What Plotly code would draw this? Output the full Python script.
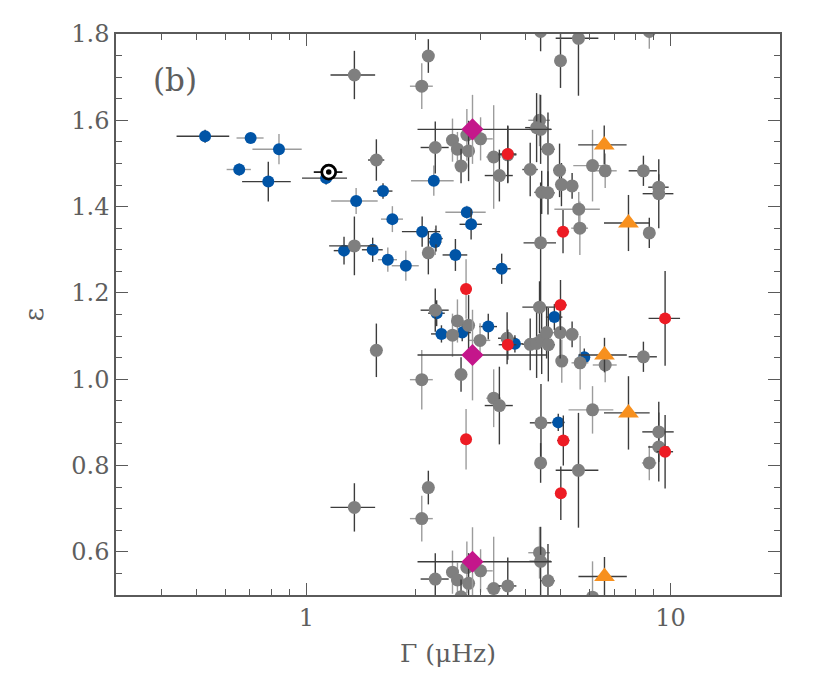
import plotly.graph_objects as go

# ---------------- data ----------------
# gray sample: Gamma (muHz), epsilon, x-error, y-error, error-bar shade (d=dark, l=light)
gray_x = [1.355, 1.355, 2.163, 2.163, 2.075, 2.075, 1.557, 1.355, 2.163, 1.557,
          2.075, 2.26, 2.26, 2.26, 2.52, 2.52, 2.6, 2.6, 2.79, 2.79,
          2.66, 2.66, 2.76, 2.76, 3.01, 3.01, 3.27, 3.27, 3.39, 3.575,
          3.575, 4.12, 4.37, 4.37, 4.29, 4.40, 4.40, 4.61, 4.61, 4.99,
          5.59, 5.59, 4.40, 4.40, 8.75, 8.75, 4.96, 5.02, 5.37, 4.43,
          4.61, 6.11, 6.11, 6.62, 8.43, 9.29, 9.29, 5.60, 5.64, 8.75,
          4.40, 4.37, 2.60, 2.79, 2.52, 3.00, 3.56, 4.12, 4.29, 4.43,
          4.62, 4.57, 4.98, 5.37, 5.65, 5.03, 6.62, 8.43, 2.66, 3.27,
          3.39, 4.41, 6.11, 9.29, 9.29]
gray_y = [1.705, 0.703, 1.749, 0.749, 1.679, 0.677, 1.508, 1.309, 1.293, 1.067,
          0.999, 1.160, 1.537, 0.537, 1.554, 0.553, 1.533, 0.535, 1.529, 0.527,
          1.494, 0.496, 1.566, 0.564, 1.557, 0.556, 1.515, 0.515, 1.472, 1.520,
          0.521, 1.486, 1.600, 0.598, 1.583, 1.579, 0.578, 1.533, 0.533, 1.738,
          1.790, 0.789, 1.806, 0.806, 1.806, 0.806, 1.484, 1.451, 1.448, 1.433,
          1.432, 1.495, 0.495, 1.483, 1.483, 1.445, 1.430, 1.394, 1.350, 1.339,
          1.316, 1.167, 1.135, 1.125, 1.102, 1.090, 1.095, 1.081, 1.083, 1.092,
          1.080, 1.108, 1.108, 1.104, 1.038, 1.042, 1.033, 1.052, 1.011, 0.956,
          0.939, 0.899, 0.929, 0.878, 0.843]
gray_ex = [0.19, 0.19, 0.07, 0.07, 0.15, 0.15, 0.08, 0.20, 0.07, 0.06,
           0.15, 0.20, 0.20, 0.20, 0.10, 0.10, 0.10, 0.10, 0.10, 0.10,
           0.08, 0.08, 0.10, 0.10, 0.24, 0.24, 0.15, 0.15, 0.30, 0.20,
           0.20, 0.20, 0.30, 0.30, 0.30, 0.30, 0.30, 0.20, 0.20, 0.15,
           0.75, 0.75, 0.15, 0.15, 0.40, 0.40, 0.20, 0.15, 0.20, 0.20,
           0.20, 0.70, 0.70, 0.50, 0.75, 0.60, 0.90, 0.80, 0.30, 0.30,
           0.45, 0.45, 0.10, 0.10, 0.10, 0.20, 0.20, 0.20, 0.30, 0.30,
           0.20, 0.20, 0.20, 0.20, 0.30, 0.15, 0.50, 0.75, 0.08, 0.15,
           0.30, 0.30, 0.86, 0.92, 0.60]
gray_ey = [0.056, 0.056, 0.039, 0.039, 0.053, 0.053, 0.048, 0.068, 0.050, 0.062,
           0.069, 0.050, 0.060, 0.060, 0.050, 0.050, 0.040, 0.040, 0.070, 0.070,
           0.040, 0.040, 0.060, 0.060, 0.050, 0.050, 0.120, 0.120, 0.060, 0.066,
           0.066, 0.062, 0.060, 0.060, 0.080, 0.080, 0.080, 0.085, 0.085, 0.063,
           0.133, 0.133, 0.046, 0.046, 0.040, 0.040, 0.062, 0.050, 0.030, 0.050,
           0.050, 0.083, 0.083, 0.040, 0.035, 0.030, 0.080, 0.040, 0.062, 0.035,
           0.140, 0.060, 0.050, 0.070, 0.050, 0.040, 0.060, 0.060, 0.080, 0.080,
           0.085, 0.060, 0.060, 0.030, 0.062, 0.050, 0.040, 0.035, 0.040, 0.067,
           0.090, 0.090, 0.055, 0.070, 0.080]
gray_bar = ['d', 'd', 'd', 'd', 'l', 'l', 'd', 'd', 'd', 'd',
            'l', 'd', 'd', 'd', 'l', 'l', 'l', 'l', 'd', 'd',
            'd', 'd', 'l', 'l', 'l', 'l', 'l', 'l', 'd', 'd',
            'd', 'd', 'l', 'l', 'd', 'd', 'd', 'd', 'd', 'd',
            'd', 'd', 'd', 'd', 'l', 'l', 'd', 'd', 'd', 'd',
            'd', 'l', 'l', 'l', 'd', 'd', 'd', 'l', 'l', 'd',
            'd', 'd', 'l', 'd', 'l', 'l', 'd', 'd', 'd', 'd',
            'd', 'd', 'd', 'd', 'l', 'l', 'l', 'd', 'd', 'l',
            'd', 'd', 'l', 'd', 'd']

blue_x = [0.527, 0.703, 0.841, 0.654, 0.786, 1.133, 1.37, 1.624, 1.723, 1.269,
          1.521, 1.674, 1.876, 2.08, 2.27, 2.26, 2.239, 2.759, 2.835, 2.567,
          3.44, 2.28, 2.35, 2.68, 3.16, 3.74, 4.80, 5.80, 4.92]
blue_y = [1.563, 1.559, 1.533, 1.486, 1.458, 1.466, 1.413, 1.436, 1.371, 1.298,
          1.300, 1.277, 1.263, 1.342, 1.326, 1.318, 1.460, 1.387, 1.359, 1.288,
          1.256, 1.153, 1.105, 1.108, 1.122, 1.082, 1.144, 1.051, 0.900]
blue_ex = [0.087, 0.06, 0.13, 0.05, 0.12, 0.16, 0.20, 0.10, 0.12, 0.08,
           0.10, 0.10, 0.16, 0.25, 0.10, 0.10, 0.30, 0.35, 0.20, 0.20,
           0.20, 0.12, 0.15, 0.15, 0.18, 0.20, 0.25, 0.20, 0.20]
blue_ey = [0.015, 0.010, 0.035, 0.015, 0.046, 0.015, 0.030, 0.018, 0.030, 0.032,
           0.028, 0.028, 0.035, 0.035, 0.030, 0.030, 0.035, 0.015, 0.035, 0.037,
           0.035, 0.030, 0.020, 0.020, 0.030, 0.020, 0.030, 0.020, 0.020]
blue_bar = ['d', 'l', 'l', 'l', 'd', 'd', 'l', 'd', 'l', 'd',
            'd', 'l', 'l', 'd', 'd', 'l', 'l', 'l', 'd', 'd',
            'd', 'd', 'd', 'd', 'd', 'd', 'd', 'd', 'd']

red_x = [3.575, 5.07, 2.746, 4.99, 9.67, 3.575, 2.746, 5.08, 9.67, 5.00]
red_y = [1.522, 1.342, 1.209, 1.172, 1.141, 1.080, 0.861, 0.858, 0.832, 0.736]
red_ex = [0.20, 0.20, 0.10, 0.20, 0.96, 0.20, 0.10, 0.20, 0.50, 0.15]
red_ey = [0.066, 0.050, 0.069, 0.058, 0.110, 0.035, 0.070, 0.058, 0.085, 0.062]
red_bar = ['d', 'd', 'l', 'd', 'd', 'd', 'l', 'd', 'd', 'd']

orange_x = [6.58, 7.67, 6.59, 7.67, 6.59]
orange_y = [1.543, 1.362, 1.056, 0.922, 0.543]
orange_ex = [1.0, 1.1, 1.0, 1.1, 1.0]
orange_ey = [0.045, 0.065, 0.040, 0.085, 0.045]

magenta_x = [2.86, 2.86, 2.86]
magenta_y = [1.579, 1.056, 0.577]
magenta_ex_plus = [1.86, 1.72, 1.86]
magenta_ex_minus = [0.84, 0.84, 0.84]
magenta_ey = [0.08, 0.105, 0.08]

sun_x = [1.152]
sun_y = [1.48]
sun_ex = [0.104]
sun_ey = [0.018]

x_tickvals = [1, 10]
x_ticktext = ['1', '10']
x_minor = [0.3, 0.4, 0.5, 0.6, 0.7, 0.8, 0.9, 2, 3, 4, 5, 6, 7, 8, 9, 20]
y_tickvals = [0.6, 0.8, 1.0, 1.2, 1.4, 1.6, 1.8]
y_ticktext = ['0.6', '0.8', '1.0', '1.2', '1.4', '1.6', '1.8']

# ---------------- styles ----------------
DARK = '#3c3c3c'
LIGHT = '#9c9c9c'
AXC = '#5a5a5a'
FONT = 'DejaVu Serif'
TXT = '#5e5e5e'

fig = go.Figure()


def add_group(xs, ys, exs, eys, bars, marker):
    for flag, col in (('l', LIGHT), ('d', DARK)):
        idx = [i for i, b in enumerate(bars) if b == flag]
        if not idx:
            continue
        fig.add_trace(go.Scatter(
            x=[xs[i] for i in idx], y=[ys[i] for i in idx], mode='markers',
            marker=marker,
            error_x=dict(type='data', array=[exs[i] for i in idx], color=col,
                         thickness=1.4, width=0),
            error_y=dict(type='data', array=[eys[i] for i in idx], color=col,
                         thickness=1.4, width=0),
            showlegend=False, hoverinfo='x+y'))


add_group(blue_x, blue_y, blue_ex, blue_ey, blue_bar,
          dict(color='#0054a6', size=12, line=dict(width=0)))
add_group(gray_x, gray_y, gray_ex, gray_ey, gray_bar,
          dict(color='#7f7f7f', size=13, line=dict(width=0)))
add_group(red_x, red_y, red_ex, red_ey, red_bar,
          dict(color='#ed1c24', size=12, line=dict(width=0)))

fig.add_trace(go.Scatter(
    x=orange_x, y=orange_y, mode='markers',
    marker=dict(symbol='triangle-up', color='#f7901e', size=18, line=dict(width=0)),
    error_x=dict(type='data', array=orange_ex, color=DARK, thickness=1.4, width=0),
    error_y=dict(type='data', array=orange_ey, color=DARK, thickness=1.4, width=0),
    showlegend=False))

fig.add_trace(go.Scatter(
    x=magenta_x, y=magenta_y, mode='markers',
    marker=dict(symbol='diamond', color='#c4168b', size=17, line=dict(width=0)),
    error_x=dict(type='data', symmetric=False, array=magenta_ex_plus,
                 arrayminus=magenta_ex_minus, color=DARK, thickness=1.4, width=0),
    error_y=dict(type='data', array=magenta_ey, color=LIGHT, thickness=1.4, width=0),
    showlegend=False))

fig.add_trace(go.Scatter(
    x=sun_x, y=sun_y, mode='markers',
    marker=dict(symbol='circle', color='white', size=14, line=dict(color='black', width=2.8)),
    error_x=dict(type='data', array=sun_ex, color='black', thickness=1.6, width=0),
    error_y=dict(type='data', array=sun_ey, color='black', thickness=1.6, width=0),
    showlegend=False))
fig.add_trace(go.Scatter(
    x=sun_x, y=sun_y, mode='markers',
    marker=dict(symbol='circle', color='black', size=5.5, line=dict(width=0)),
    showlegend=False))

axis_common = dict(
    showline=True, linecolor=AXC, linewidth=1.5, mirror='ticks',
    ticks='inside', ticklen=12, tickwidth=1.3, tickcolor=AXC,
    showgrid=False, zeroline=False,
    tickfont=dict(family=FONT, size=24, color=TXT),
)

fig.update_xaxes(
    type='log', range=[-0.5229, 1.30103],
    tickmode='array', tickvals=x_tickvals, ticktext=x_ticktext,
    minor=dict(tickmode='array', tickvals=x_minor, ticks='inside', ticklen=6,
               tickwidth=1.3, tickcolor=AXC, showgrid=False),
    title=dict(text='Γ (μHz)', font=dict(family=FONT, size=25, color=TXT), standoff=14),
    **axis_common)

fig.update_yaxes(
    range=[0.5, 1.8],
    tickmode='array', tickvals=y_tickvals, ticktext=y_ticktext,
    minor=dict(dtick=0.05, tick0=0.5, ticks='inside', ticklen=6,
               tickwidth=1.3, tickcolor=AXC, showgrid=False),
    title=dict(text='ε', font=dict(family=FONT, size=26, color=TXT), standoff=20),
    **axis_common)

fig.add_annotation(text='(b)', xref='paper', yref='paper', x=0.089, y=0.918,
                   xanchor='center', yanchor='middle',
                   showarrow=False, font=dict(family=FONT, size=31, color=TXT))

fig.update_layout(
    width=830, height=692,
    margin=dict(l=108, r=58, t=20, b=105),
    paper_bgcolor='white', plot_bgcolor='white',
    showlegend=False,
)

fig.write_html('out.html')
